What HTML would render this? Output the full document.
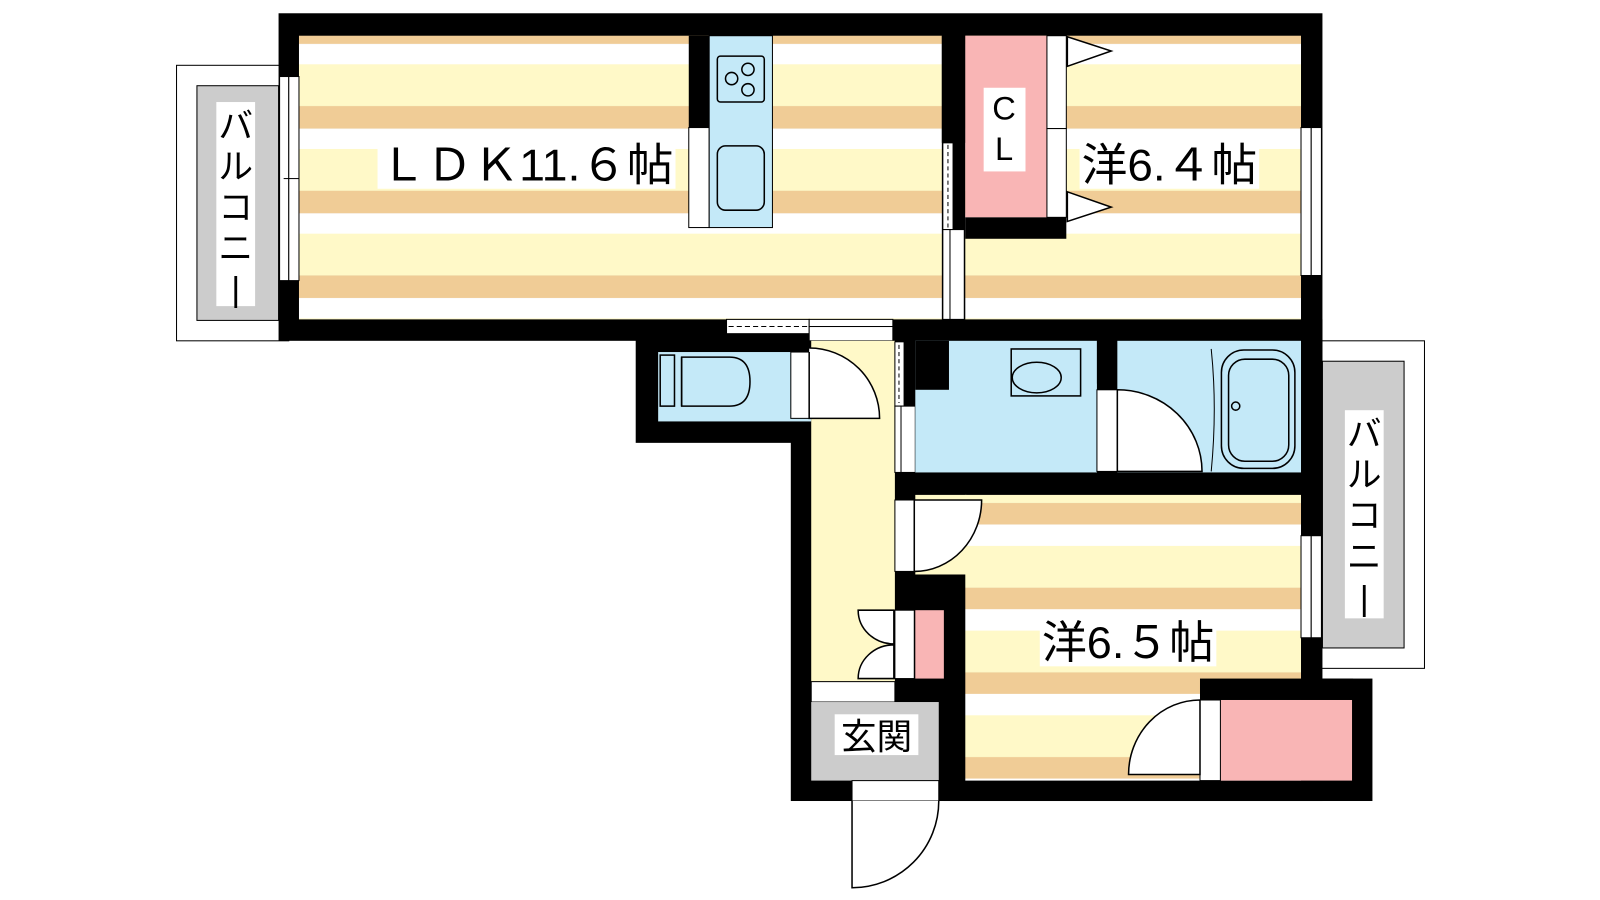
<!DOCTYPE html>
<html><head><meta charset="utf-8"><style>
html,body{margin:0;padding:0;background:#fff;width:1600px;height:900px;overflow:hidden}
svg{display:block}
text{font-family:"Liberation Sans","Noto Sans CJK JP",sans-serif;fill:#000}
</style></head><body>
<svg width="1600" height="900" viewBox="0 0 1600 900" xmlns="http://www.w3.org/2000/svg">
<defs>
<pattern id="st" patternUnits="userSpaceOnUse" width="10" height="83" y="63">
<rect width="10" height="41" fill="#fff9c8"/>
<rect y="41" width="10" height="22" fill="#f0cc96"/>
<rect y="63" width="10" height="20" fill="#fff"/>
</pattern>
<pattern id="st2" patternUnits="userSpaceOnUse" width="10" height="83" y="535">
<rect width="10" height="41" fill="#fff9c8"/>
<rect y="41" width="10" height="21" fill="#f0cc96"/>
<rect y="62" width="10" height="21" fill="#fff"/>
</pattern>
</defs>
<g transform="scale(1.0204)">
<!-- balconies -->
<rect x="173" y="64" width="110" height="270" fill="#fff" stroke="#000" stroke-width="1"/>
<rect x="193" y="84" width="80" height="230" fill="#ccc" stroke="#000" stroke-width="1"/>
<rect x="212" y="100" width="38" height="200" fill="#fff"/>
<text x="231" y="135" font-size="34" text-anchor="middle">バ</text>
<text x="231" y="175" font-size="34" text-anchor="middle">ル</text>
<text x="231" y="215" font-size="34" text-anchor="middle">コ</text>
<text x="231" y="255" font-size="34" text-anchor="middle">ニ</text>
<text x="231" y="295" font-size="34" text-anchor="middle">|</text>
<rect x="1286" y="334" width="110" height="321" fill="#fff" stroke="#000" stroke-width="1"/>
<rect x="1296" y="354" width="80" height="281" fill="#ccc" stroke="#000" stroke-width="1"/>
<rect x="1318" y="402" width="38" height="204" fill="#fff"/>
<text x="1337" y="437" font-size="34" text-anchor="middle">バ</text>
<text x="1337" y="477" font-size="34" text-anchor="middle">ル</text>
<text x="1337" y="517" font-size="34" text-anchor="middle">コ</text>
<text x="1337" y="557" font-size="34" text-anchor="middle">ニ</text>
<text x="1337" y="598" font-size="34" text-anchor="middle">|</text>

<!-- outer walls block -->
<rect x="273" y="13" width="1023" height="321" fill="#000"/>
<rect x="623" y="313" width="673" height="121" fill="#000"/>
<rect x="775" y="313" width="521" height="472" fill="#000"/>
<rect x="925" y="665" width="420" height="120" fill="#000"/>

<!-- floors -->
<rect x="293" y="35" width="630" height="278" fill="url(#st)"/>
<rect x="946" y="35" width="329" height="278" fill="url(#st)"/>
<rect x="946" y="485" width="329" height="280" fill="url(#st2)"/>
<rect x="897" y="485" width="50" height="78" fill="url(#st2)"/>
<rect x="1176" y="665" width="150" height="21" fill="#000"/>

<!-- kitchen -->
<rect x="675" y="35" width="20" height="90" fill="#000"/>
<rect x="675" y="125" width="20" height="98" fill="#fff" stroke="#000" stroke-width="1"/>
<rect x="695" y="35" width="62" height="188" fill="#c4e9f8" stroke="#000" stroke-width="1"/>
<rect x="703" y="55" width="46" height="45" rx="3" fill="none" stroke="#000" stroke-width="1.5"/>
<circle cx="717" cy="77" r="6" fill="none" stroke="#000" stroke-width="1.5"/>
<circle cx="733" cy="68" r="6" fill="none" stroke="#000" stroke-width="1.5"/>
<circle cx="733" cy="88" r="6" fill="none" stroke="#000" stroke-width="1.5"/>
<rect x="703" y="143" width="46" height="63" rx="8" fill="none" stroke="#000" stroke-width="1.5"/>

<!-- LDK/6.4 partition -->
<rect x="923" y="35" width="23" height="105" fill="#000"/>
<rect x="924" y="140" width="10" height="85" fill="#fff" stroke="#000" stroke-width="1"/>
<line x1="929" y1="142" x2="929" y2="223" stroke="#000" stroke-dasharray="4,3"/>
<rect x="934" y="140" width="11" height="85" fill="#000"/>
<rect x="924" y="225" width="7" height="88" fill="#fff" stroke="#000" stroke-width="1"/>
<rect x="931" y="225" width="14" height="88" fill="#fff" stroke="#000" stroke-width="1"/>

<!-- closet CL -->
<rect x="946" y="35" width="80" height="178" fill="#f9b5b5"/>
<rect x="946" y="213" width="99" height="21" fill="#000"/>
<rect x="1026" y="35" width="19" height="91" fill="#fff" stroke="#000" stroke-width="1"/>
<rect x="1026" y="126" width="19" height="87" fill="#fff" stroke="#000" stroke-width="1"/>
<polygon points="1046,36 1089,50 1046,65" fill="#fff" stroke="#000" stroke-width="1.5"/>
<polygon points="1046,188 1089,203 1046,217" fill="#fff" stroke="#000" stroke-width="1.5"/>
<rect x="964" y="86" width="41" height="82" fill="#fff"/>
<text x="984" y="117" font-size="32" text-anchor="middle">C</text>
<text x="984" y="157" font-size="32" text-anchor="middle">L</text>

<!-- windows -->
<rect x="274" y="75" width="9" height="200" fill="#fff" stroke="#000" stroke-width="1"/>
<rect x="283" y="75" width="10" height="200" fill="#fff" stroke="#000" stroke-width="1"/>
<line x1="278" y1="175" x2="293" y2="175" stroke="#000"/>
<rect x="1275" y="125" width="10" height="145" fill="#fff" stroke="#000" stroke-width="1"/>
<rect x="1285" y="125" width="10" height="145" fill="#fff" stroke="#000" stroke-width="1"/>
<rect x="1275" y="525" width="10" height="100" fill="#fff" stroke="#000" stroke-width="1"/>
<rect x="1285" y="525" width="10" height="100" fill="#fff" stroke="#000" stroke-width="1"/>

<!-- LDK bottom opening -->
<rect x="712" y="313" width="81" height="14" fill="#fff" stroke="#000" stroke-width="1"/>
<line x1="714" y1="320" x2="791" y2="320" stroke="#000" stroke-dasharray="5,3"/>
<rect x="793" y="313" width="82" height="7" fill="#fff" stroke="#000" stroke-width="1"/>
<rect x="793" y="320" width="82" height="14" fill="#fff" stroke="#000" stroke-width="1"/>

<!-- toilet -->
<rect x="645" y="345" width="150" height="68" fill="#c4e9f8"/>
<rect x="647" y="348" width="14" height="50" fill="none" stroke="#000" stroke-width="1.5"/>
<path d="M668,350 L715,350 Q735,350 735,374 Q735,398 715,398 L668,398 Z" fill="none" stroke="#000" stroke-width="1.5"/>
<line x1="668" y1="350" x2="668" y2="398" stroke="#000" stroke-width="1.5"/>
<rect x="775" y="345" width="18" height="65" fill="#fff" stroke="#000" stroke-width="1"/>

<!-- corridor -->
<rect x="795" y="334" width="82" height="334" fill="#fff9c8"/>
<path d="M793,345 L793,410 L862,410 A69,69 0 0 0 793,341" fill="#fff" stroke="#000" stroke-width="1.5"/>
<rect x="877" y="335" width="9" height="63" fill="#fff" stroke="#000" stroke-width="1"/>
<line x1="881" y1="338" x2="881" y2="395" stroke="#000" stroke-dasharray="4,3"/>
<rect x="877" y="398" width="6" height="65" fill="#fff" stroke="#000" stroke-width="1"/>
<rect x="883" y="398" width="14" height="65" fill="#fff" stroke="#000" stroke-width="1"/>
<rect x="795" y="668" width="82" height="20" fill="#fff" stroke="#000" stroke-width="1"/>
<rect x="795" y="688" width="125" height="77" fill="#ccc"/>
<rect x="818" y="700" width="82" height="40" fill="#fff"/>
<text x="859" y="734" font-size="35" text-anchor="middle">玄関</text>

<!-- washroom / bath -->
<rect x="897" y="334" width="178" height="129" fill="#c4e9f8"/>
<rect x="897" y="334" width="33" height="48" fill="#000"/>
<rect x="991" y="342" width="68" height="46" fill="none" stroke="#000" stroke-width="1.5"/>
<ellipse cx="1016" cy="370" rx="24" ry="15" fill="none" stroke="#000" stroke-width="1.5"/>
<rect x="1075" y="334" width="20" height="42" fill="#000"/>
<rect x="1095" y="334" width="180" height="129" fill="#c4e9f8"/>
<rect x="1075" y="382" width="20" height="80" fill="#fff" stroke="#000" stroke-width="1"/>
<path d="M1095,382 L1095,462 L1178,462 A83,80 0 0 0 1095,382 Z" fill="#fff" stroke="#000" stroke-width="1.5"/>
<path d="M1187,342 Q1193,400 1187,462" fill="none" stroke="#000" stroke-width="1"/>
<rect x="1197" y="343" width="72" height="116" rx="22" fill="none" stroke="#000" stroke-width="1.5"/>
<rect x="1204" y="352" width="59" height="100" rx="16" fill="none" stroke="#000" stroke-width="1.5"/>
<circle cx="1211" cy="398" r="4" fill="none" stroke="#000" stroke-width="1.5"/>

<!-- 6.5 room doors -->
<rect x="877" y="490" width="19" height="70" fill="#fff" stroke="#000" stroke-width="1"/>
<path d="M896,490 L962,490 A66,70 0 0 1 896,560 Z" fill="#fff" stroke="#000" stroke-width="1.5"/>
<rect x="897" y="598" width="28" height="67" fill="#f9b5b5"/>
<rect x="877" y="598" width="19" height="67" fill="#fff" stroke="#000" stroke-width="1"/>
<path d="M876,598 L841,598 A35,33 0 0 0 876,631 Z" fill="#fff" stroke="#000" stroke-width="1.5"/>
<path d="M876,632 A35,33 0 0 0 841,665 L876,665 Z" fill="#fff" stroke="#000" stroke-width="1.5"/>

<!-- bottom right closet -->
<rect x="1196" y="686" width="129" height="79" fill="#f9b5b5"/>
<rect x="1176" y="686" width="20" height="79" fill="#fff" stroke="#000" stroke-width="1"/>
<path d="M1176,686 A70,73 0 0 0 1106,759 L1176,759 Z" fill="#fff" stroke="#000" stroke-width="1.5"/>

<!-- entrance door -->
<rect x="835" y="765" width="85" height="20" fill="#fff" stroke="#000" stroke-width="1"/>
<path d="M835,785 L835,870 A85,85 0 0 0 920,785" fill="#fff" stroke="#000" stroke-width="1.5"/>

<!-- labels -->
<rect x="370" y="137" width="292" height="48" fill="#fff"/>
<text x="372" y="177" font-size="44" textLength="288" lengthAdjust="spacingAndGlyphs">ＬＤＫ11.６帖</text>
<rect x="1058" y="138" width="176" height="47" fill="#fff"/>
<text x="1060" y="177" font-size="44" textLength="172" lengthAdjust="spacingAndGlyphs">洋6.４帖</text>
<rect x="1019" y="605" width="173" height="48" fill="#fff"/>
<text x="1021" y="645" font-size="44" textLength="169" lengthAdjust="spacingAndGlyphs">洋6.５帖</text>
</g>
</svg>
</body></html>
